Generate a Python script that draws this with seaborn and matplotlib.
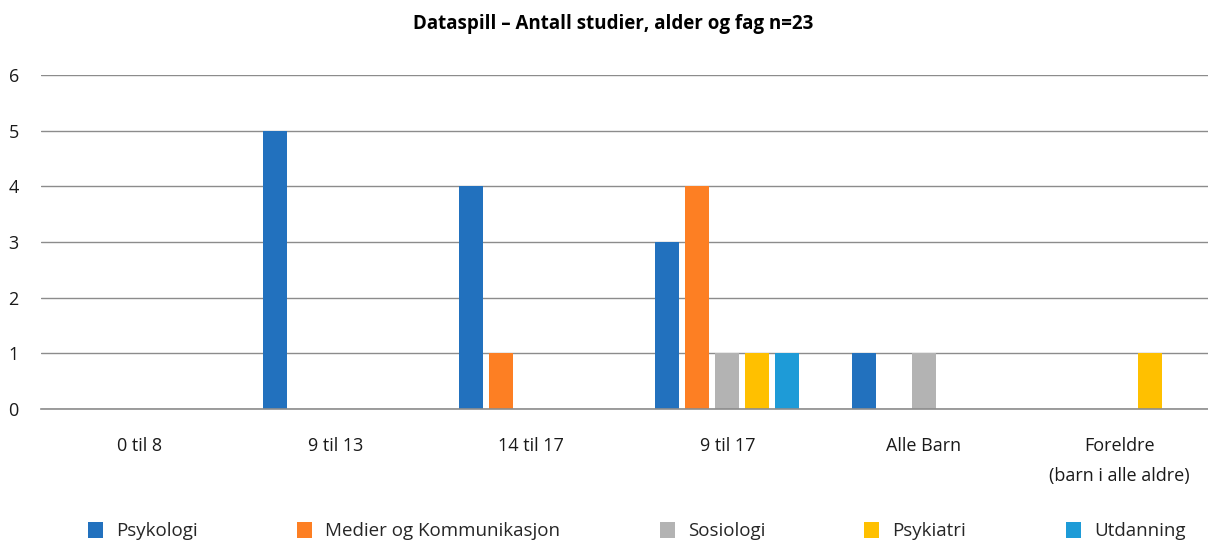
import matplotlib
matplotlib.use("Agg")
import matplotlib.pyplot as plt
import seaborn as sns
import pandas as pd
from matplotlib.patches import Patch

categories = ["0 til 8", "9 til 13", "14 til 17", "9 til 17", "Alle Barn", "Foreldre\n(barn i alle aldre)"]
series = ["Psykologi", "Medier og Kommunikasjon", "Sosiologi", "Psykiatri", "Utdanning"]
psykologi = [0, 5, 4, 3, 1, 0]
medier = [0, 0, 1, 4, 0, 0]
sosiologi = [0, 0, 0, 1, 1, 0]
psykiatri = [0, 0, 0, 1, 0, 1]
utdanning = [0, 0, 0, 1, 0, 0]
colors = ["#2271BE", "#FD7F23", "#B3B3B3", "#FFC000", "#1E9BD7"]
title = "Dataspill \u2013 Antall studier, alder og fag n=23"

values = [psykologi, medier, sosiologi, psykiatri, utdanning]
rows = []
for s, vals in zip(series, values):
    for c, v in zip(categories, vals):
        rows.append({"Kategori": c, "Fag": s, "Antall": v})
df = pd.DataFrame(rows)

sns.set_theme(style="white")
plt.rcParams["font.family"] = ["Open Sans", "DejaVu Sans"]

fig = plt.figure(figsize=(12.08, 5.41), dpi=100)
ax = fig.add_axes([41 / 1208, (541 - 409) / 541, 1 - 41 / 1208, 334 / 541])

sns.barplot(data=df, x="Kategori", y="Antall", hue="Fag", order=categories,
            hue_order=series, palette=colors, saturation=1, width=0.765, gap=0.2,
            linewidth=0, ax=ax, legend=False)

ax.set_ylim(0, 6)
ax.set_xlim(-0.5, 5.45)
ax.set_yticks(range(0, 7))
ax.yaxis.grid(True, color="#8c8c8c", linewidth=1.0)
ax.set_axisbelow(True)
for sp in ["top", "right", "left"]:
    ax.spines[sp].set_visible(False)
ax.spines["bottom"].set_color("#8c8c8c")
ax.spines["bottom"].set_linewidth(1.2)
ax.tick_params(axis="both", length=0, labelsize=13, colors="#1a1a1a")
ax.tick_params(axis="y", pad=16)
ax.tick_params(axis="x", pad=20)
for lbl in ax.get_xticklabels():
    lbl.set_linespacing(1.9)
ax.set_xlabel("")
ax.set_ylabel("")

fig.suptitle(title, x=0.508, y=0.975, fontsize=13.5, fontweight="bold", color="#000000")

handles = [Patch(facecolor=c, edgecolor="none") for c in colors]
fig.legend(handles, series, loc="lower center", bbox_to_anchor=(0.527, -0.03), ncol=5,
           frameon=False, fontsize=13.5, handlelength=0.8, handleheight=1.0,
           handletextpad=0.7, columnspacing=5.3)

fig.savefig("out.png", dpi=100)
